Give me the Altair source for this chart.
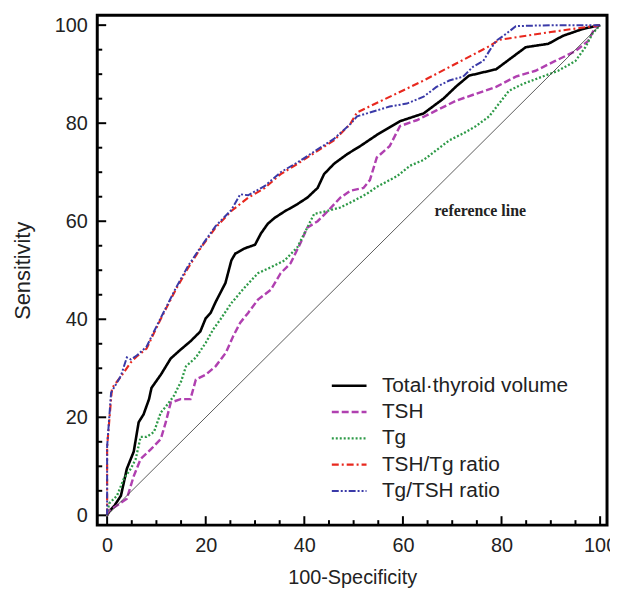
import altair as alt
import pandas as pd

# ---------------- data ----------------
series_names = ["Total·thyroid volume", "TSH", "Tg", "TSH/Tg ratio", "Tg/TSH ratio"]
series_colors = ["#000000", "#b040b0", "#2e9a48", "#e8281e", "#3a3aa8"]
series_dash = [[1, 0], [7, 3], [2, 2], [7, 3, 2, 3], [7, 2, 2, 2, 2, 2]]
series_width = [2.6, 2, 2, 2, 2]

vol_x = [0, 0.4, 1.5, 2.8, 4, 5.4, 6.4, 7.4, 8.5, 9, 10.9, 12.9, 14.9, 16.9, 18.9, 20, 21, 22, 24,
         25.2, 26, 28, 30, 31.2, 32.6, 34, 36, 38.6, 40.6, 42.7, 44, 46, 48.7, 51.3, 54.7, 59.4,
         64.2, 68.2, 70.8, 73.4, 78.9, 82.9, 84.9, 89.5, 92.4, 96.4, 99, 100]
vol_y = [0, 0.8, 2, 4, 9.5, 13, 19, 20.6, 23.7, 26, 28.7, 32, 33.8, 35.5, 37.5, 40.2, 41.3, 43.5, 47.4,
         52, 53.4, 54.5, 55.2, 57.5, 59.5, 60.7, 62, 63.5, 64.8, 66.8, 69.6, 71.7, 73.7, 75.3, 77.6, 80.4,
         82, 85, 87.5, 89.7, 91, 94, 95.5, 96.2, 97.8, 99.2, 99.8, 100]

tsh_x = [0, 0.4, 2, 4, 5.4, 6.8, 8.9, 10.9, 11.9, 12.9, 14.9, 16.9, 18, 20, 22, 24.1, 25.5, 27, 28.6,
         30.6, 33.2, 35.2, 37.2, 39.2, 40.6, 42.7, 44.7, 47.3, 49.3, 52, 53.3, 54.7, 57.3, 59.4, 62.8,
         66.8, 70.8, 74.8, 78.9, 82.9, 86.9, 90.9, 95, 97.6, 99, 100]
tsh_y = [0, 1, 2, 3.4, 8, 11.5, 13.5, 15.6, 19, 23, 23.7, 23.7, 27.7, 28.7, 30.4, 33.2, 36.4, 39.3, 41.3,
         44, 46, 49.4, 51.4, 55.5, 58.7, 60, 62, 64.8, 66.2, 66.8, 68.4, 73, 75.3, 79.4, 80.6,
         82.6, 84.6, 86, 87.4, 89.5, 90.7, 92.7, 94.7, 96.8, 99.6, 100]

tg_x = [0, 0.4, 2, 3.4, 4.8, 5.8, 6.8, 8, 9.5, 10.9, 12, 13.5, 15, 16, 18, 20, 21.5, 23, 25.2, 28,
        30.6, 33.2, 36, 38.6, 40.6, 42, 44.7, 47.3, 50.1, 52.7, 54.7, 58.8, 61.4, 64.2, 66.8, 69.4,
        72.2, 74.8, 77.5, 79.5, 81.5, 84.3, 88.3, 91.5, 95, 97, 98.4, 100]
tg_y = [0, 2.4, 4, 7.5, 9.5, 11.5, 16, 16, 17, 21, 22.3, 24.3, 27.3, 30.4, 32.2, 35.2, 37.9, 40, 43.3, 46.6,
        49.4, 50.6, 52, 54.7, 58.7, 61.5, 62.1, 62.8, 64.2, 65.6, 67, 69.2, 71.3, 72.5, 74.5, 76.5,
        77.9, 79.4, 81.4, 84, 86.6, 88, 89.5, 90.7, 92.7, 95.5, 98.2, 100]

tshtg_x = [0, 0, 0.8, 1, 2.8, 4.8, 6, 8, 9.5, 11, 13.9, 16.5, 19.1, 22, 25.2, 28.6, 32, 35.2, 38.6,
           42, 46, 49.3, 50.7, 64.2, 77.5, 79.5, 90, 100]
tshtg_y = [0, 14, 23.7, 26, 28.3, 31.2, 32.4, 34, 37.2, 40.3, 46, 50.6, 54.7, 58.7, 62.1, 64.8, 66.8, 69.6, 71.7,
           73.9, 76.5, 79.8, 82.2, 88.7, 95.7, 97, 98.6, 100]

tgtsh_x = [0, 0, 0.8, 2.8, 4, 4.8, 6, 8, 9.5, 11, 13.9, 16.5, 19.1, 22, 25.2, 27, 28.6, 32, 35.2, 38.6,
           42, 46, 49.3, 50.7, 54.7, 57.3, 60.8, 64.2, 66.8, 69.4, 72.2, 74.2, 76.3, 77.5, 78.9, 80.9,
           82.9, 90, 100]
tgtsh_y = [0, 14, 25, 28.5, 32.2, 31.8, 32.6, 34.4, 37.5, 40.5, 46.3, 51, 54.9, 59, 62.3, 65.5, 65.3, 67.2, 70,
           72, 74.2, 76.8, 79.8, 81.4, 82.6, 83.4, 84, 85.4, 87.4, 88.7, 89.5, 91.5, 92.7, 94.7, 96.8, 98.2,
           99.8, 100, 100]

ref_x = [0, 100]
ref_y = [0, 100]
ref_label = ["reference line"]
ref_label_x = [75.7]
ref_label_y = [62.1]

major_ticks = [0, 20, 40, 60, 80, 100]
minor_ticks = [v for v in range(0, 101, 5) if v % 20 != 0]

# ---------------- build tables ----------------
rows = []
for name, xs, ys in zip(series_names,
                        [vol_x, tsh_x, tg_x, tshtg_x, tgtsh_x],
                        [vol_y, tsh_y, tg_y, tshtg_y, tgtsh_y]):
    for i, (a, b) in enumerate(zip(xs, ys)):
        rows.append({"x": a, "y": b, "series": name, "i": i})
df = pd.DataFrame(rows)
ref_df = pd.DataFrame({"x": ref_x, "y": ref_y})
lab_df = pd.DataFrame({"x": ref_label_x, "y": ref_label_y, "t": ref_label})
major_df = pd.DataFrame({"x": major_ticks, "y": major_ticks})
minor_df = pd.DataFrame({"x": minor_ticks, "y": minor_ticks})

W = 514
H = 514
FONT = "Liberation Sans"
xscale = alt.Scale(domain=[-2.0, 101.4], nice=False, zero=False)
yscale = alt.Scale(domain=[-2.0, 102.0], nice=False, zero=False)

xaxis = alt.Axis(values=major_ticks, ticks=False, domain=False, grid=False,
                 labelFontSize=20, labelFont=FONT, labelColor="#222", labelPadding=11,
                 labelFlush=False, title="100-Specificity", titleFont=FONT,
                 titleFontSize=20, titleFontWeight="normal", titleColor="#222",
                 titlePadding=12)
yaxis = alt.Axis(values=major_ticks, ticks=False, domain=False, grid=False,
                 labelFontSize=20, labelFont=FONT, labelColor="#222", labelPadding=10,
                 labelFlush=False, title="Sensitivity", titleFont=FONT,
                 titleFontSize=22, titleFontWeight="normal", titleColor="#222",
                 titlePadding=20)

X = alt.X("x:Q", scale=xscale, axis=xaxis, title="100-Specificity")
Y = alt.Y("y:Q", scale=yscale, axis=yaxis, title="Sensitivity")

leg = alt.Legend(title=None, orient="none", legendX=235, legendY=363,
                 symbolType="stroke", symbolSize=1225, clipHeight=21, rowPadding=4.5,
                 labelFontSize=21, labelFont=FONT, labelColor="#222", labelOffset=14,
                 labelLimit=400, padding=0)

lines = alt.Chart(df).mark_line().encode(
    x=X, y=Y,
    color=alt.Color("series:N", scale=alt.Scale(domain=series_names, range=series_colors), legend=leg),
    strokeDash=alt.StrokeDash("series:N", scale=alt.Scale(domain=series_names, range=series_dash), legend=leg),
    strokeWidth=alt.StrokeWidth("series:N", scale=alt.Scale(domain=series_names, range=series_width), legend=leg),
    order=alt.Order("i:Q"),
)

ref = alt.Chart(ref_df).mark_line(color="#333333", strokeWidth=0.8).encode(x=X, y=Y)

# inward ticks on the bottom and left frame
xt_major = alt.Chart(major_df).mark_rule(color="black", strokeWidth=2).encode(
    x=X, y=alt.value(H), y2=alt.value(H - 9))
xt_minor = alt.Chart(minor_df).mark_rule(color="black", strokeWidth=2).encode(
    x=X, y=alt.value(H), y2=alt.value(H - 5))
yt_major = alt.Chart(major_df).mark_rule(color="black", strokeWidth=2).encode(
    y=Y, x=alt.value(0), x2=alt.value(9))
yt_minor = alt.Chart(minor_df).mark_rule(color="black", strokeWidth=2).encode(
    y=Y, x=alt.value(0), x2=alt.value(5))

label = alt.Chart(lab_df).mark_text(font="Liberation Serif", fontSize=16, fontWeight="bold",
                                    color="#222").encode(x=X, y=Y, text="t:N")

chart = alt.layer(lines, ref, xt_major, xt_minor, yt_major, yt_minor, label).properties(
    width=W, height=H,
    autosize=alt.AutoSizeParams(type="none"),
    padding={"left": 90, "top": 5, "right": 3, "bottom": 64},
).configure_view(stroke="black", strokeWidth=3)

chart.save("out.html", embed_options={"renderer": "svg", "actions": False})
